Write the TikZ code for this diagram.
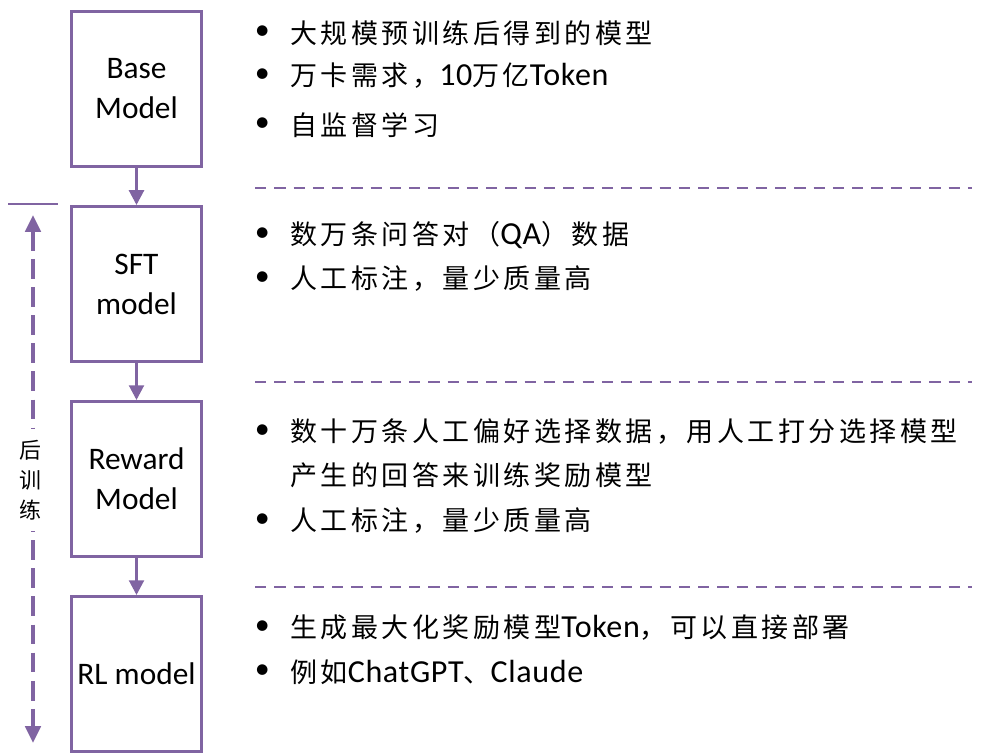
\documentclass[tikz,border=0pt]{standalone}
\usepackage{fontspec}
\setmainfont{Carlito}
\newfontfamily\cjk{Noto Sans CJK SC}[LetterSpace=13]
\newfontfamily\cjkplain{Noto Sans CJK SC}
\newfontfamily\lat{Carlito}[LetterSpace=2]
\usetikzlibrary{arrows.meta, positioning}
\definecolor{mpurple}{HTML}{8064A2}

\newcommand\bulfont{\cjk\fontsize{19.2}{24}\selectfont}
\newcommand\en[1]{{\lat\fontsize{22.8}{24}\selectfont #1}}

\begin{document}
\begin{tikzpicture}[
  x=0.025cm, y=-0.025cm,
  >={Triangle[length=10.5pt, width=10.5pt]},
  modelbox/.style={
    draw=mpurple, line width=2.1pt, fill=white,
    minimum width=3.25cm, minimum height=3.875cm,
    font=\fontsize{22.3}{28.5}\selectfont, text=black,
    align=center, inner sep=2pt
  },
  arr/.style={->, line width=2.1pt, mpurple},
  btext/.style={anchor=west, inner sep=0pt, font=\bulfont, text=black},
  bul/.style={font=\lat\fontsize{21.3}{24}\selectfont, inner sep=0pt},
  bline/.style={btext, label={[bul, label distance=0.5cm]left:\textbullet}},
  sepline/.style={mpurple, line width=2pt, dash pattern=on 8pt off 5.7pt},
  trainarr/.style={<->, mpurple, line width=3.2pt, dash pattern=on 14pt off 6pt,
    >={Triangle[length=12pt, width=10.7pt]}},
  trainlabel/.style={font=\cjkplain\fontsize{15.6}{21.3}\selectfont, fill=white,
    align=center, inner xsep=2pt, inner ysep=8pt},
]

% ============================================================
% Canvas
% ============================================================
\useasboundingbox (0,0) rectangle (992,752);
\clip (0,0) rectangle (992,752);
\fill[white] (0,0) rectangle (992,752);

% ============================================================
% Model boxes: top to bottom
% ============================================================
\node[modelbox] (base) at (136.5,89) {Base\\Model};
\node[modelbox, below=0.925cm of base] (sft) {SFT\\model};
\node[modelbox, below=0.925cm of sft] (reward) {Reward\\Model};
\node[modelbox, below=0.925cm of reward] (rl) {RL model};

\draw[arr] (base) -- (sft);
\draw[arr] (sft) -- (reward);
\draw[arr] (reward) -- (rl);

% ============================================================
% Post-training span on the left
% ============================================================
\coordinate (tick-l) at (8,204);
\coordinate (tick-r) at (58,204);
\draw[mpurple, line width=2.1pt] (tick-l) -- (tick-r);

\coordinate (train-top) at (33,215);
\coordinate (train-bot) at (33,743);
\draw[trainarr] (train-top) -- (train-bot);
\node[trainlabel] (train-label) at (30,480) {后\\训\\练};

% ============================================================
% Separators
% ============================================================
\foreach \yy in {188,382,587}
  \draw[sepline] (255,\yy) -- (972,\yy);

% ============================================================
% Descriptions
% ============================================================
% --- Base Model ---
\node[bline] (base-l1) at (290,33) {大规模预训练后得到的模型};
\node[bline] (base-l2) at (290,76) {万卡需求，\en{10}万亿\en{Token}};
\node[bline] (base-l3) at (290,125) {自监督学习};

% --- SFT model ---
\node[bline] (sft-l1) at (290,235) {数万条问答对（\en{QA}）数据};
\node[bline] (sft-l2) at (290,279) {人工标注，量少质量高};

% --- Reward Model ---
\node[bline] (reward-l1) at (290,432) {数十万条人工偏好选择数据，用人工打分选择模型};
\node[btext] (reward-l1b) at (290,475) {产生的回答来训练奖励模型};
\node[bline] (reward-l2) at (290,521) {人工标注，量少质量高};

% --- RL model ---
\node[bline] (rl-l1) at (290,628) {生成最大化奖励模型\en{Token}，可以直接部署};
\node[bline] (rl-l2) at (290,672) {例如\en{ChatGPT}、\en{Claude}};

\end{tikzpicture}
\end{document}
